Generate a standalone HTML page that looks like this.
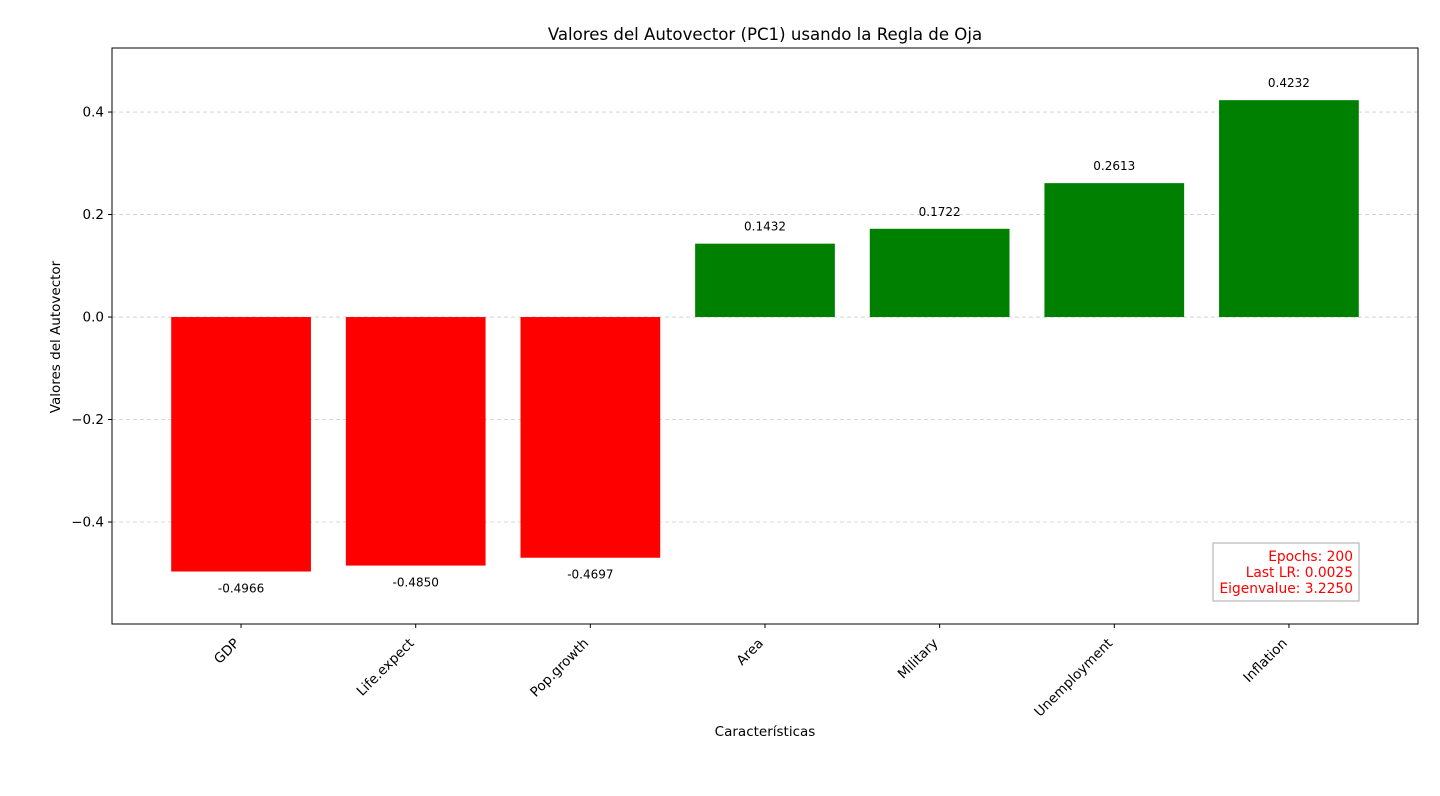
<!DOCTYPE html>
<html><head><meta charset="utf-8"><style>
body{margin:0;background:#fff;}
svg{display:block;font-family:"DejaVu Sans","Liberation Sans",sans-serif;}
</style></head><body>
<svg id="chart" width="1440" height="796">
<text x="765" y="40" text-anchor="middle" font-size="16.6">Valores del Autovector (PC1) usando la Regla de Oja</text>
<g id="grid"></g><g id="bars"></g><g id="labels"></g><g id="axes"></g>
<rect x="112" y="48" width="1306" height="576" fill="none" stroke="#000" stroke-width="1"/>
<text x="765" y="736" text-anchor="middle" font-size="13.5">Características</text>
<text transform="translate(60,337) rotate(-90)" text-anchor="middle" font-size="13.5">Valores del Autovector</text>
<g>
<rect x="1213" y="543" width="146" height="58" fill="#fff" stroke="#aaa"/>
<text x="1353" y="561" text-anchor="end" font-size="13.8" fill="red">Epochs: 200</text>
<text x="1353" y="577" text-anchor="end" font-size="13.8" fill="red">Last LR: 0.0025</text>
<text x="1353" y="593" text-anchor="end" font-size="13.8" fill="red">Eigenvalue: 3.2250</text>
</g>
</svg>
<script>
const categories=["GDP","Life.expect","Pop.growth","Area","Military","Unemployment","Inflation"];
const values=[-0.4966,-0.4850,-0.4697,0.1432,0.1722,0.2613,0.4232];
const yTicks=[-0.4,-0.2,0.0,0.2,0.4];
const yTickLabels=["\u22120.4","\u22120.2","0.0","0.2","0.4"];
const NS="http://www.w3.org/2000/svg";
const L=112,R=1418,T=48,B=624,xmin=-0.739,xmax=6.739,ymin=-0.599,ymax=0.525;
const xs=i=>L+(i-xmin)/(xmax-xmin)*(R-L);
const ys=v=>B-(v-ymin)/(ymax-ymin)*(B-T);
function mk(t,a,p){const e=document.createElementNS(NS,t);for(const k in a)e.setAttribute(k,a[k]);document.getElementById(p).appendChild(e);return e;}
yTicks.forEach((v,i)=>{
 const g=mk("line",{x1:L,x2:R,y1:ys(v),y2:ys(v),stroke:"#ccc","stroke-dasharray":"4,3","stroke-width":0.8},"grid");
 
 
 const t=mk("line",{x1:L-4,x2:L,y1:ys(v),y2:ys(v),stroke:"#000"},"axes");
 
 
 const tx=mk("text",{x:L-8,y:ys(v)+4.5,"text-anchor":"end","font-size":13.5},"axes");
 tx.textContent=yTickLabels[i];
 
 
});
const bw=0.8*(xs(1)-xs(0));
categories.forEach((c,i)=>{
 const v=values[i],x=xs(i),y0=ys(0),y1=ys(v);
 const r=mk("rect",{x:x-bw/2,y:Math.min(y0,y1),width:bw,height:Math.abs(y1-y0),fill:v<0?"#ff0000":"#008000"},"bars");
 
 
 const lb=mk("text",{x:x,y:v<0?y1+21:y1-13,"text-anchor":"middle","font-size":12},"labels");
 lb.textContent=v.toFixed(4);
 
 
 const t=mk("line",{x1:x,x2:x,y1:B,y2:B+4,stroke:"#000"},"axes");
 
 
 const tx=mk("text",{transform:`translate(${x-1},${B+20}) rotate(-45)`,"text-anchor":"end","font-size":13.5},"axes");
 tx.textContent=c;
 
 
});
</script>
</body></html>
